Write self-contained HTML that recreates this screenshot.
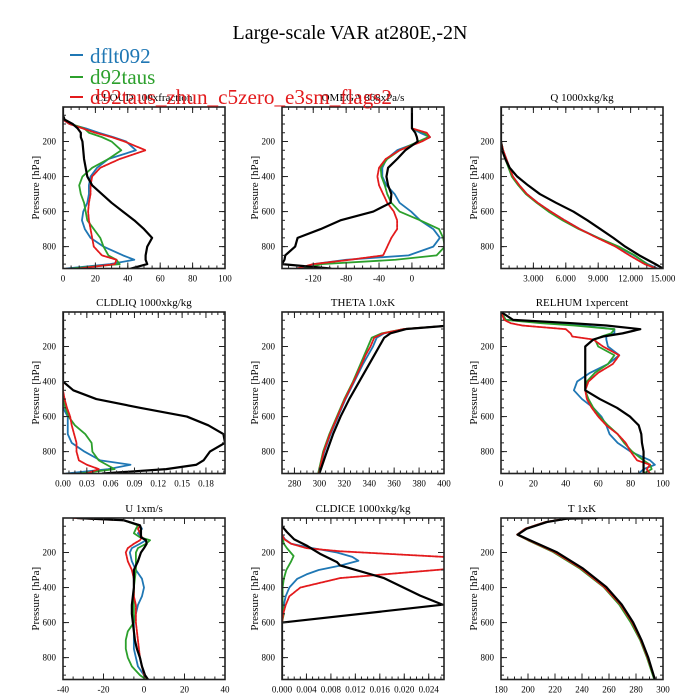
<!DOCTYPE html>
<html><head><meta charset="utf-8">
<style>
html,body{margin:0;padding:0;background:#fff;}
svg{display:block;font-family:"Liberation Serif",serif;}
</style></head>
<body>
<svg id="chart" width="700" height="700" viewBox="0 0 700 700" xmlns="http://www.w3.org/2000/svg">
<rect width="700" height="700" fill="#fff"/>
<g id="panels"></g>
<text x="350" y="39" font-size="20" text-anchor="middle" fill="#000">Large-scale VAR at280E,-2N</text>
<g>
<line x1="70" y1="55" x2="83" y2="55" stroke="#1f77b4" stroke-width="2"/>
<text x="90" y="63" font-size="21" fill="#1f77b4">dflt092</text>
<line x1="70" y1="77" x2="83" y2="77" stroke="#2ca02c" stroke-width="2"/>
<text x="90" y="84" font-size="21" fill="#2ca02c">d92taus</text>
<line x1="70" y1="97" x2="83" y2="97" stroke="#e31a1c" stroke-width="2"/>
<text x="90" y="104" font-size="21" fill="#e31a1c" textLength="302" lengthAdjust="spacingAndGlyphs">d92taus_zhun_c5zero_e3sm_flags2</text>
</g>
</svg>
<script>
// ---- data ----
const cloudP = [3,50,75,100,125,150,175,200,250,300,350,400,450,500,550,600,650,700,750,800,850,875,900,925];
const cloudBlack = [0,0,1,6,9,11,11,12,12.5,13,14,15,18,24,30,37,44,50,55,52,51,51,52,42];
const cloudBlue = [0,0,0,4,14,22,31,39,45,28,21,17,16,16,15,12.5,11.7,13.5,17,25,37,44,29,2];
const cloudGreen = [0,0,0,5,13,16,24,30,36,28,18,12,10,11,13,14,15,19,23,25,28,33,35,5];
const cloudRed = [0,0,0,4,12,20,30,38,51,35,23,18,17,17,16,15.5,16,17,18,19,24,33,32,10];

const omegaP = [3,50,75,100,125,150,175,200,250,300,350,400,450,500,550,600,650,700,750,800,850,875,900,925];
const omegaBlack = [0,0,0,0,0,4,6,7,-8,-18,-29,-31,-29,-25,-26,-47,-87,-111,-139,-142,-154,-155,-158,-99];
const omegaBlue = [0,0,0,0,0,10,22,10,-18,-31,-36,-36,-31,-21,-15,-1,10,26,34,26,-4,-80,-120,-136];
const omegaGreen = [0,0,0,0,0,15,20,8,-15,-30,-38,-37,-33,-30,-25,-15,10,33,38,40,30,-20,-110,-130];
const omegaRed = [0,0,0,0,0,18,22,12,-15,-32,-40,-42,-40,-35,-30,-22,-18,-18,-25,-30,-35,-75,-120,-140];

const qP = [3,200,250,300,350,400,450,500,550,600,650,700,750,800,850,900,925];
const qBlack = [0,0,0.1,0.4,0.8,1.5,2.5,3.6,5.1,6.7,8,9.2,10.4,11.5,12.8,14.3,15];
const qBlue = [0,0,0.2,0.5,0.8,1.1,1.7,2.4,3.4,4.6,5.9,7.3,9.0,10.8,12.3,13.6,14.5];
const qGreen = [0,0,0.2,0.4,0.7,1.0,1.6,2.3,3.3,4.4,5.7,7.2,9.0,10.9,12.4,13.5,14.3];
const qRed = [0,0,0.2,0.5,0.8,1.1,1.7,2.4,3.4,4.6,5.9,7.3,8.9,10.6,11.9,13.3,14.4];

const liqP = [3,350,400,450,500,550,600,650,700,750,800,850,875,900,925];
const liqBlack = [0,0,0,0.013,0.042,0.097,0.156,0.183,0.202,0.204,0.185,0.177,0.168,0.13,0.05];
const liqBlue = [0,0,0,0,0,0,0.006,0.006,0.006,0.011,0.027,0.047,0.085,0.057,0.004];
const liqGreen = [0,0,0,0,0,0.003,0.007,0.015,0.028,0.036,0.037,0.045,0.055,0.065,0.02];
const liqRed = [0,0,0,0,0.002,0.005,0.009,0.011,0.014,0.017,0.017,0.02,0.03,0.045,0.03];

const thetaP = [3,50,83,100,125,150,200,250,300,400,500,600,700,800,925];
const thetaBlack = [600,450,400,370,357,352,348,344,340,332,324,317,311,306,300];
const thetaBlue = [600,450,400,368,352,346,343,339,335,328,321,315,309,304,299.5];
const thetaGreen = [600,450,400,368,350,342,339,336,333,327,320,314,308,303,299];
const thetaRed = [600,450,400,368,351,344,341,337,334,327.5,320.5,314.5,308.5,303.5,299.5];

const rhP = [3,48,67,80,101,125,143,160,200,250,300,350,400,450,500,550,600,650,700,750,800,850,875,900,925];
const rhBlack = [0,7.5,44,65,86,75,63,57,52,52,52,52,52,52,61,71.6,79.6,85,86.6,87,88,88,88,88,88];
const rhBlue = [0,3,30,50,70,70,65,65,66,73,66,55,47,45,50,57,62,65,67,72,80,92,95,88,85];
const rhGreen = [0,3,25,45,70,68,62,58,60,70,66,58,53,52,54,57,61,66,72,76,81,88,92,93,88];
const rhRed = [0,2,6,13,40,43,44,57,63,73,69,60,54,52,53,56,60,65,72,77,80,84,92,90,92];

const uP = [3,16,45,65,90,113,130,150,175,200,250,300,350,400,450,500,550,600,650,700,750,800,850,900,925];
const uBlack = [-33,-10,-2,-1.5,-1.5,-1.5,1,1.3,0,-1.5,-3,-5,-5,-5,-5.5,-6,-6,-5.5,-5,-4.5,-3.5,-2,-1,0.5,2];
const uBlue = [-33,-10,-2,-1,-3,-1,1,-2,-6,-7,-6,-4,-1,0,-1,-3,-4,-5,-5,-5,-5,-4,-3,0,1];
const uGreen = [-33,-10,-3,-4,-5,-2,3,1,-3,-4,-4,-4,-4.5,-5,-5,-5,-5,-5,-8,-9,-9,-8,-6,-2,1];
const uRed = [-35,-10,-2,-3,-2,-1,-2,-5,-8,-9,-8,-6,-5,-5,-5,-4,-4,-4,-3.5,-3,-2.5,-2,-1,0,2];

const iceBlackP = [3,50,83,125,160,207,255,274,345,446,498,600,925];
const iceBlack = [0,0,0.0008,0.002,0.004,0.0062,0.009,0.0095,0.0166,0.0226,0.0263,0,0];
const iceBlueP = [3,100,125,150,175,200,225,247,275,300,325,350,400,450,500,550,600,925];
const iceBlue = [0,0,0.0005,0.0015,0.005,0.009,0.0115,0.0125,0.0095,0.006,0.004,0.0025,0.0012,0.0006,0.0003,0.0002,0,0];
const iceGreenP = [3,100,150,175,220,250,300,350,400,500,550,600,925];
const iceGreen = [0,0,0.0003,0.0008,0.0019,0.0015,0.0007,0.0003,0.0001,0.0001,0.0003,0,0];
const iceRedP = [3,100,125,150,175,193,225,260,296,346,400,450,500,550,600,925];
const iceRed = [0,0,0.0004,0.0015,0.004,0.0095,0.0265,0.05,0.0265,0.0095,0.003,0.0012,0.0006,0.0002,0,0];

const tP = [3,7,26,64,98,130,197,292,397,497,598,699,798,925];
const tBlack = [251,228.7,214,199,192.4,201.5,221,240.8,258,269.4,277.8,284,289,294];
const tBlue = [251,228,213,198,192,200.5,219.5,239.5,257,268.5,277,283.5,288.5,294];
const tGreen = [251,228,213,198,192,200,218.5,238.5,256,267.5,276,283,288,293.5];
const tRed = [251,228,213,198,192,200.5,219.5,239.5,256.5,268.5,277,283.5,288.5,294];

const cloudTicks = [0,20,40,60,80,100];
const omegaTicks = [-120,-80,-40,0];
const qTicks = [3,6,9,12,15];
const liqTicks = [0,0.03,0.06,0.09,0.12,0.15,0.18];
const thetaTicks = [280,300,320,340,360,380,400];
const rhTicks = [0,20,40,60,80,100];
const uTicks = [-40,-20,0,20,40];
const iceTicks = [0,0.004,0.008,0.012,0.016,0.020,0.024];
const tTicks = [180,200,220,240,260,280,300];
const pTicks = [200,400,600,800];

// ---- layout ----
const NS = "http://www.w3.org/2000/svg";
const COLS = [63,282,501], ROWS = [107,312,518], W = 162, H = 161.5;
const P_TOP = 3, P_BOT = 925;
const C = {blue:"#1f77b4", green:"#2ca02c", red:"#e31a1c", black:"#000"};

const panels = [
 {name:"cloud", title:"CLOUD  100xfraction", col:0,row:0, xmin:0,xmax:100, ticks:cloudTicks, minor:5, fmt:v=>String(v),
  series:[["blue",cloudP,cloudBlue],["green",cloudP,cloudGreen],["red",cloudP,cloudRed],["black",cloudP,cloudBlack]]},
 {name:"omega", title:"OMEGA  868xPa/s", col:1,row:0, xmin:-158,xmax:39, ticks:omegaTicks, minor:10, fmt:v=>String(v),
  series:[["blue",omegaP,omegaBlue],["green",omegaP,omegaGreen],["red",omegaP,omegaRed],["black",omegaP,omegaBlack]]},
 {name:"q", title:"Q  1000xkg/kg", col:2,row:0, xmin:0,xmax:15, ticks:qTicks, minor:0.75, fmt:v=>v.toFixed(3),
  series:[["blue",qP,qBlue],["green",qP,qGreen],["red",qP,qRed],["black",qP,qBlack]]},
 {name:"cldliq", title:"CLDLIQ  1000xkg/kg", col:0,row:1, xmin:0,xmax:0.204, ticks:liqTicks, minor:0.0075, fmt:v=>v.toFixed(2),
  series:[["blue",liqP,liqBlue],["green",liqP,liqGreen],["red",liqP,liqRed],["black",liqP,liqBlack]]},
 {name:"theta", title:"THETA  1.0xK", col:1,row:1, xmin:270,xmax:400, ticks:thetaTicks, minor:5, fmt:v=>String(v),
  series:[["blue",thetaP,thetaBlue],["green",thetaP,thetaGreen],["red",thetaP,thetaRed],["black",thetaP,thetaBlack]]},
 {name:"relhum", title:"RELHUM  1xpercent", col:2,row:1, xmin:0,xmax:100, ticks:rhTicks, minor:5, fmt:v=>String(v),
  series:[["blue",rhP,rhBlue],["green",rhP,rhGreen],["red",rhP,rhRed],["black",rhP,rhBlack]]},
 {name:"u", title:"U  1xm/s", col:0,row:2, xmin:-40,xmax:40, ticks:uTicks, minor:5, fmt:v=>String(v),
  series:[["blue",uP,uBlue],["green",uP,uGreen],["red",uP,uRed],["black",uP,uBlack]]},
 {name:"cldice", title:"CLDICE  1000xkg/kg", col:1,row:2, xmin:0,xmax:0.0265, ticks:iceTicks, minor:0.001, fmt:v=>v.toFixed(3),
  series:[["blue",iceBlueP,iceBlue],["green",iceGreenP,iceGreen],["red",iceRedP,iceRed],["black",iceBlackP,iceBlack]]},
 {name:"t", title:"T  1xK", col:2,row:2, xmin:180,xmax:300, ticks:tTicks, minor:5, fmt:v=>String(v),
  series:[["blue",tP,tBlue],["green",tP,tGreen],["red",tP,tRed],["black",tP,tBlack]]}
];

function mk(tag, attrs, parent){
  const e = document.createElementNS(NS, tag);
  for (const k in attrs) e.setAttribute(k, attrs[k]);
  if (parent) parent.appendChild(e);
  return e;
}

const root = document.getElementById("panels");
const defs = mk("defs", {}, root);

panels.forEach(pn => {
  const x0 = COLS[pn.col], y0 = ROWS[pn.row];
  const xs = v => x0 + (v - pn.xmin) / (pn.xmax - pn.xmin) * W;
  const ys = p => y0 + (p - P_TOP) / (P_BOT - P_TOP) * H;
  const g = mk("g", {}, root);
  
  

  const cp = mk("clipPath", {id:"clip-" + pn.name}, defs);
  mk("rect", {x:x0, y:y0, width:W, height:H}, cp);

  // title
  const tt = mk("text", {x:x0 + W/2, y:y0 - 6, "font-size":11, "text-anchor":"middle", fill:"#000"}, g);
  
  
  tt.textContent = pn.title;

  // series
  const sg = mk("g", {"clip-path":"url(#clip-" + pn.name + ")"}, g);
  pn.series.forEach(([col, P, V]) => {
    const pts = P.map((p, i) => xs(V[i]).toFixed(2) + "," + ys(p).toFixed(2)).join(" ");
    const attrs = {points:pts, fill:"none", stroke:C[col], "stroke-width": col === "black" ? 2.2 : 1.8,
      "stroke-linejoin":"round", "stroke-linecap":"round"};
    if (col === "red") attrs["stroke-dasharray"] = "2.5,1";
    const pl = mk("polyline", attrs, sg);
    
    
  });

  // frame
  const fr = mk("rect", {x:x0, y:y0, width:W, height:H, fill:"none", stroke:"#222", "stroke-width":1.6}, g);
  
  

  // ticks
  const tk = mk("g", {stroke:"#222", "stroke-width":1}, g);
  
  
  const start = Math.ceil(pn.xmin / pn.minor - 1e-6);
  for (let k = start; k * pn.minor <= pn.xmax + 1e-9; k++) {
    const x = xs(k * pn.minor);
    mk("line", {x1:x, y1:y0 + H, x2:x, y2:y0 + H - 3}, tk);
    mk("line", {x1:x, y1:y0, x2:x, y2:y0 + 3}, tk);
  }
  pn.ticks.forEach(v => {
    const x = xs(v);
    mk("line", {x1:x, y1:y0 + H, x2:x, y2:y0 + H - 6}, tk);
    mk("line", {x1:x, y1:y0, x2:x, y2:y0 + 6}, tk);
    const lb = mk("text", {x:x, y:y0 + H + 13, "font-size":9, "text-anchor":"middle", fill:"#000"}, g);
    
    
    lb.textContent = pn.fmt(v);
  });
  for (let p = 50; p <= 900; p += 50) {
    const y = ys(p);
    mk("line", {x1:x0, y1:y, x2:x0 + 3, y2:y}, tk);
    mk("line", {x1:x0 + W, y1:y, x2:x0 + W - 3, y2:y}, tk);
  }
  pTicks.forEach(p => {
    const y = ys(p);
    mk("line", {x1:x0, y1:y, x2:x0 + 6, y2:y}, tk);
    mk("line", {x1:x0 + W, y1:y, x2:x0 + W - 6, y2:y}, tk);
    const lb = mk("text", {x:x0 - 7, y:y + 3, "font-size":9, "text-anchor":"end", fill:"#000"}, g);
    
    
    lb.textContent = String(p);
  });

  // y title
  const yt = mk("text", {x:0, y:0, "font-size":11, "text-anchor":"middle", fill:"#000",
    transform:"translate(" + (x0 - 24) + "," + (y0 + H/2) + ") rotate(-90)"}, g);
  
  
  yt.textContent = "Pressure [hPa]";
});
</script>
</body></html>
